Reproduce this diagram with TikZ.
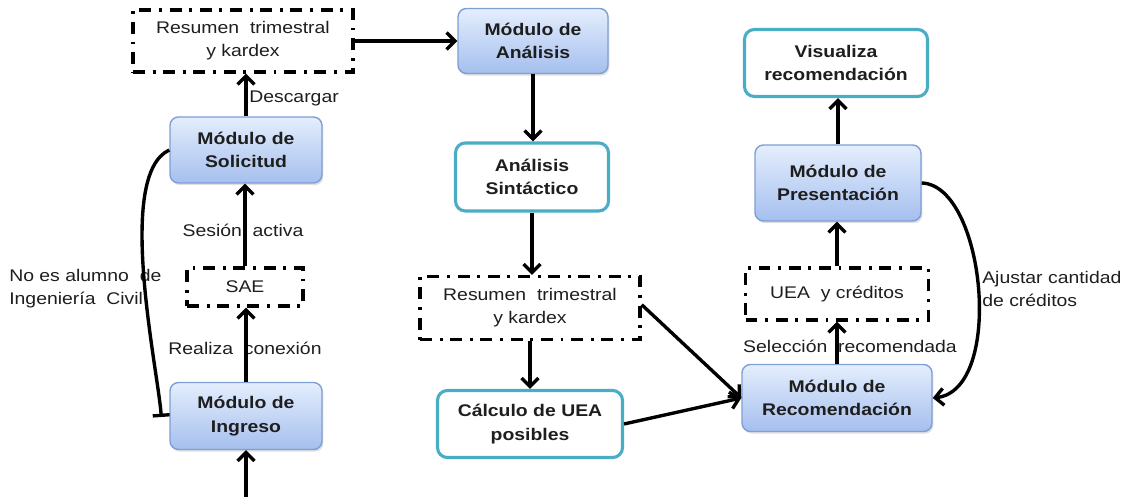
\documentclass[tikz,border=0pt]{standalone}
\usepackage{fontspec}
\setmainfont[FakeStretch=1.15]{Liberation Sans}
\usetikzlibrary{arrows.meta,shadows,calc}
\definecolor{modtop}{HTML}{E4EEFD}
\definecolor{modbot}{HTML}{A5BFEE}
\definecolor{modborder}{HTML}{7E9ED6}
\definecolor{tealb}{HTML}{4BACC6}
\definecolor{txt}{HTML}{1E1E1E}
\begin{document}
\begin{tikzpicture}[x=0.025cm,y=-0.025cm,
  font=\fontsize{12}{16.5}\selectfont, text=txt,
  sz/.style 2 args={minimum width=#1*0.025cm, minimum height=#2*0.025cm},
  mod/.style={draw=modborder, line width=1pt, rounded corners=6pt,
    top color=modtop, bottom color=modbot,
    drop shadow={opacity=0.25, shadow xshift=1pt, shadow yshift=-1.5pt},
    font=\fontsize{12}{16.5}\selectfont\bfseries, align=center, inner sep=0pt},
  tbox/.style={draw=tealb, line width=2.2pt, rounded corners=7pt, fill=white,
    font=\fontsize{12}{16.5}\selectfont\bfseries, align=center, inner sep=0pt},
  dbox/.style={draw=black, line width=2.4pt,
    dash pattern=on 8.5pt off 5.5pt on 2pt off 5.5pt, align=center, inner sep=0pt},
  arr/.style={line width=2.4pt, -{Straight Barb[length=6pt,width=12pt]}},
  lbl/.style={inner sep=0pt, align=left}]
\useasboundingbox (0,0) rectangle (1128,497);

% left column
\node[dbox, sz={220}{62}] (res1) at (243,41) {Resumen~ trimestral\\y kardex};
\node[mod, sz={152}{66}] (sol) at (246,150) {Módulo de\\Solicitud};
\node[dbox, sz={116}{38}] (sae) at (245,287) {SAE};
\node[mod, sz={152}{67}] (ing) at (246,416) {Módulo de\\Ingreso};
\coordinate (entry) at (246,500);

% middle column
\node[mod, sz={150}{65}] (ana) at (533,41) {Módulo de\\Análisis};
\node[tbox, sz={153}{68}] (sin) at (532,177) {Análisis\\Sintáctico};
\node[dbox, sz={220}{63}] (res2) at (530,308) {Resumen~ trimestral\\y kardex};
\node[tbox, sz={185}{67}] (cal) at (530,424) {Cálculo de UEA\\posibles};

% right column
\node[tbox, sz={183}{67}] (vis) at (836,63) {Visualiza\\recomendación};
\node[mod, sz={166}{76}] (pre) at (838,183) {Módulo de\\Presentación};
\node[dbox, sz={183}{52}] (uea) at (837,294) {UEA~ y créditos};
\node[mod, sz={190}{67}] (rec) at (837,398) {Módulo de\\Recomendación};

% labels
\node[lbl, anchor=west] (ldesc) at (249,98) {Descargar};
\node[lbl] (lses) at (243,230) {Sesión~ activa};
\node[lbl] (lrea) at (245,348) {Realiza~ conexión};
\node[lbl, anchor=west] (lno) at (9,289) {No es alumno~ de\\Ingeniería~ Civil};
\node[lbl] (lsel) at (850,346) {Selección~ recomendada};
\node[lbl, anchor=west] (laj) at (982,289) {Ajustar cantidad\\de créditos};

% connectors
\draw[arr] (sol.north) -- (sol.north |- res1.south);
\draw[arr] (sae.north) -- (sae.north |- sol.south);
\draw[arr] (ing.north) -- (ing.north |- sae.south);
\draw[arr] (entry) -- (ing.south);
\draw[arr] (res1.east) -- (ana.west);
\draw[arr] (ana.south) -- (ana.south |- sin.north);
\draw[arr] (sin.south) -- (sin.south |- res2.north);
\draw[arr] (res2.south) -- (cal.north);
\draw[arr] ($(res2.north east)!0.45!(res2.south east)$) -- (rec.west);
\draw[arr] (cal.east) -- (rec.west);
\draw[arr] (rec.north) -- (rec.north |- uea.south);
\draw[arr] (uea.north) -- (uea.north |- pre.south);
\draw[arr] (pre.north) -- (pre.north |- vis.south);
\draw[line width=2.4pt, -{Bar[width=12pt]}] (sol.west) .. controls (115,175) and (158,370) .. ($(ing.west)+(-8,1)$);
\draw[arr] (pre.east) .. controls (985,185) and (1005,390) .. (rec.east);
\end{tikzpicture}
\end{document}
